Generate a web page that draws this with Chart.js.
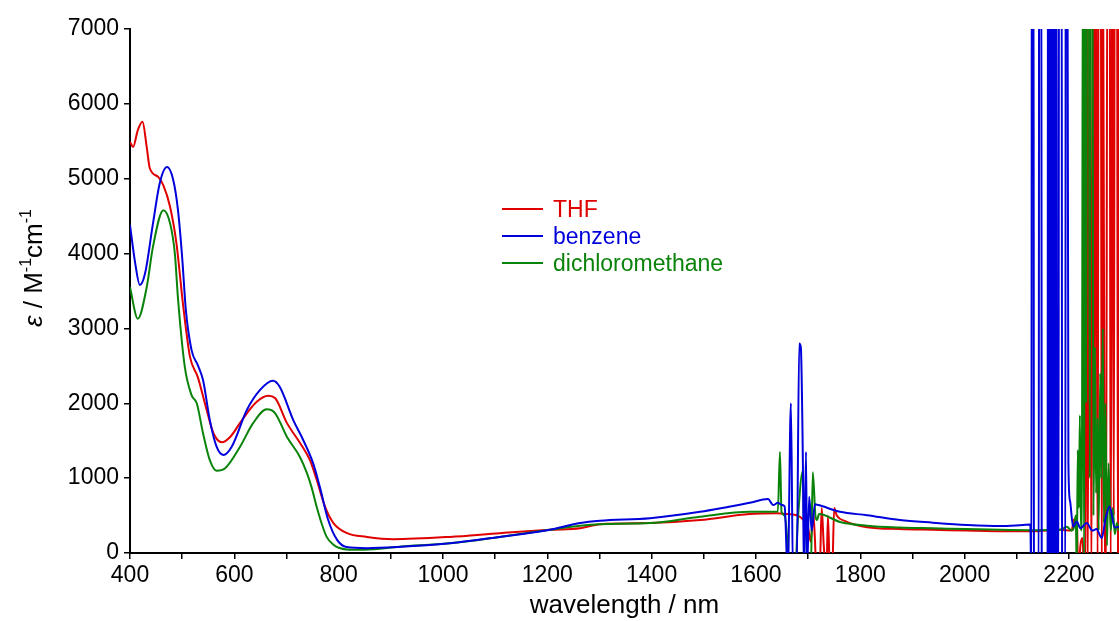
<!DOCTYPE html>
<html lang="en">
<head>
  <meta charset="UTF-8" />
  <title>epsilon vs wavelength</title>
  <script src="https://cdn.jsdelivr.net/npm/chart.js"></script>
  <style>
    html, body { margin: 0; padding: 0; background: #fff; }
    #wrap { width: 1119px; height: 621px; position: relative; }
  </style>
</head>
<body>
  <div id="wrap"><canvas id="spec"></canvas></div>

  <script>
    // wavelength (nm) / epsilon (M^-1 cm^-1)
    const thfX = [400, 406, 415, 424, 432, 438, 454, 464, 477, 489, 502, 515, 530, 547, 560, 576, 592, 617, 643, 665, 678, 701, 726, 745, 758, 774, 790, 816, 854, 904,
      1013, 1109, 1205, 1263, 1301, 1397, 1493, 1588, 1640, 1660, 1680, 1690, 1700, 1705, 1710, 1713, 1716, 1722, 1726, 1730, 1735, 1738, 1742, 1746, 1750, 1755,
      1770, 1813, 1876, 1939, 2004, 2068, 2132, 2183, 2205, 2210, 2213, 2215, 2218, 2222, 2226, 2230, 2232, 2234, 2236, 2240, 2243, 2247, 2250, 2252, 2255, 2257,
      2261, 2263, 2265, 2268, 2271, 2274, 2278, 2280, 2283, 2286, 2288, 2292, 2294, 2296];
    const thfY = [5490, 5425, 5650, 5760, 5425, 5140, 5025, 4910, 4620, 4140, 3300, 2620, 2350, 1910, 1600, 1480, 1550, 1800, 2020, 2100, 2070, 1735, 1470, 1240, 975, 615, 400, 265, 215, 185,
      215, 265, 310, 330, 385, 400, 440, 520, 530, 520, 500, 450, 330, 150, 520, 200, -300, -300, 600, 100, -300, 500, -300, -300, 600, 500,
      430, 345, 320, 310, 300, 290, 290, 310, 300, 450, 350, 500, -300, 100, 200, -500, -500, 9000, -500, 9000, -500, 9000, 2000, 9000, -500, 9000,
      9000, -500, 9000, 1500, -500, 9000, 9000, -500, 9000, 500, 9000, 9000, -500, 9000];

    const benzeneX = [400, 410, 419, 429, 444, 457, 471, 483, 492, 500, 507, 518, 530, 540, 553, 566, 579, 595, 624, 649, 674, 687, 713, 732, 751, 764, 780, 797, 815, 854, 913,
      1013, 1109, 1205, 1263, 1301, 1397, 1493, 1588, 1623, 1633, 1642, 1650, 1655, 1661, 1667, 1671, 1678, 1683, 1686, 1690, 1692, 1696, 1698, 1702, 1707, 1713,
      1720, 1761, 1813, 1876, 1939, 2004, 2068, 2112, 2126, 2128, 2129, 2132, 2133, 2142, 2143, 2147, 2148, 2159, 2160, 2161, 2162, 2163, 2164, 2165, 2166, 2167,
      2168, 2169, 2170, 2171, 2172, 2173, 2174, 2175, 2176, 2177, 2180, 2181, 2186, 2187, 2193, 2194, 2197, 2199, 2202, 2208, 2215, 2222, 2234, 2245, 2253,
      2263, 2270, 2278, 2288, 2296];
    const benzeneY = [4380, 3870, 3580, 3740, 4400, 4940, 5155, 4980, 4580, 3950, 3250, 2710, 2510, 2310, 1775, 1420, 1310, 1420, 1910, 2175, 2300, 2220, 1775, 1510, 1200, 880, 440, 175, 80, 65, 80,
      130, 215, 310, 400, 430, 465, 550, 670, 720, 640, 670, 640, 620, -300, 2000, -300, -300, 2800, 2750, 1200, -300, 1350, -300, 750, 300, 650,
      640, 550, 505, 440, 405, 375, 360, 375, 380, -500, 9000, 9000, -500, -500, 9000, 9000, -500, -500, 9000, -500, 9000, -500, 9000, -500, 9000, -500,
      9000, -500, 9000, -500, 9000, -500, 9000, -500, 9000, -500, -500, 9000, 9000, -500, -500, 9000, 9000, 1200, 700, 350, 420, 330, 400, 300, 320,
      200, 450, 620, 340, 350];

    const dcmX = [400, 415, 432, 444, 464, 477, 486, 492, 505, 518, 528, 540, 553, 566, 582, 611, 636, 662, 678, 701, 726, 739, 748, 758, 768, 777, 790, 800, 820, 850, 917,
      1013, 1109, 1205, 1263, 1301, 1397, 1493, 1588, 1642, 1646, 1649, 1655, 1667, 1675, 1680, 1690, 1694, 1700, 1705, 1709, 1714, 1717, 1721,
      1761, 1813, 1876, 1939, 2004, 2068, 2132, 2183, 2196, 2205, 2210, 2213, 2215, 2217, 2219, 2221, 2223, 2225, 2227, 2229, 2231, 2233, 2235, 2238, 2240, 2242,
      2245, 2247, 2250, 2252, 2255, 2257, 2260, 2262, 2265, 2267, 2270, 2273, 2276, 2280, 2284, 2288, 2292, 2296];
    const dcmY = [3550, 3130, 3550, 4090, 4580, 4400, 4000, 3400, 2490, 2110, 2000, 1600, 1240, 1100, 1130, 1420, 1735, 1920, 1870, 1550, 1280, 1070, 880, 615, 380, 215, 110, 70, 45, 45, 85,
      130, 215, 310, 365, 385, 400, 485, 550, 555, 1350, 550, 500, -300, -300, 400, 1100, -300, -300, -300, 1080, 500, 440, 520,
      415, 365, 340, 330, 320, 310, 305, 310, 350, 300, 350, 500, -200, 1375, 600, 1840, 300, 1200, 9000, -500, 9000, 2000, 9000, 9000, 1000, 9000,
      9000, 500, 2750, 800, 1800, 300, 2400, 1000, 3000, 400, 2000, 100, 1200, 300, 600, 250, 400, 300];

    const seriesNames = ['THF', 'benzene', 'dichloromethane'];
    const seriesColors = ['#e00000', '#0000dd', '#0a830a'];
    const xTickValues = [400, 500, 600, 700, 800, 900, 1000, 1100, 1200, 1300, 1400, 1500, 1600, 1700, 1800, 1900, 2000, 2100, 2200];
    const yTickValues = [0, 1000, 2000, 3000, 4000, 5000, 6000, 7000];

    const FONT = "'Liberation Sans', Arial, sans-serif";

    function pts(xs, ys) { return xs.map((x, i) => ({ x: x, y: ys[i] })); }

    // legend + y title drawn by hand
    const decorations = {
      id: 'decorations',
      afterDraw(chart) {
        const ctx = chart.ctx;
        ctx.save();
        // legend
        const rows = [211, 238, 265];
        ctx.font = '23px ' + FONT;
        ctx.textBaseline = 'middle';
        seriesNames.forEach((name, i) => {
          ctx.strokeStyle = seriesColors[i];
          ctx.lineWidth = 2;
          ctx.beginPath();
          ctx.moveTo(502, rows[i] - 2);
          ctx.lineTo(543, rows[i] - 2);
          ctx.stroke();
          ctx.fillStyle = seriesColors[i];
          ctx.fillText(name, 553, rows[i]);
        });

        // y axis title: italic epsilon, superscripts
        ctx.translate(42, 268);
        ctx.rotate(-Math.PI / 2);
        ctx.fillStyle = '#000';
        ctx.textBaseline = 'alphabetic';
        const parts = [
          { t: '\u03b5', f: 'italic 26px ' + FONT, dy: 0 },
          { t: ' / M', f: '26px ' + FONT, dy: 0 },
          { t: '-1', f: '16px ' + FONT, dy: -11 },
          { t: 'cm', f: '26px ' + FONT, dy: 0 },
          { t: '-1', f: '16px ' + FONT, dy: -11 }
        ];
        let total = 0;
        parts.forEach(p => { ctx.font = p.f; p.w = ctx.measureText(p.t).width; total += p.w; });
        let x = -total / 2;
        parts.forEach(p => {
          ctx.font = p.f;
          ctx.fillText(p.t, x, p.dy);
          x += p.w;
        });
        ctx.restore();
      }
    };

    const ctx = document.getElementById('spec').getContext('2d');
    new Chart(ctx, {
      type: 'line',
      data: {
        datasets: [
          { label: seriesNames[1], data: pts(benzeneX, benzeneY), borderColor: seriesColors[1], order: 0 },
          { label: seriesNames[2], data: pts(dcmX, dcmY), borderColor: seriesColors[2], order: 1 },
          { label: seriesNames[0], data: pts(thfX, thfY), borderColor: seriesColors[0], order: 2 }
        ]
      },
      options: {
        responsive: true,
        maintainAspectRatio: false,
        animation: false,
        datasets: {
          line: { borderWidth: 2, pointRadius: 0, cubicInterpolationMode: 'monotone', fill: false }
        },
        layout: { padding: { top: 29, right: 0, left: 0, bottom: 0 } },
        plugins: { legend: { display: false }, tooltip: { enabled: false } },
        scales: {
          x: {
            type: 'linear',
            min: 400,
            max: 2296,
            afterBuildTicks(scale) { scale.ticks = xTickValues.map(v => ({ value: v })); },
            afterFit(scale) { scale.height = 68; },
            ticks: {
              autoSkip: false, maxRotation: 0, color: '#000', padding: 3,
              font: { family: FONT, size: 23 },
              callback: v => (v % 200 === 0 ? String(v) : '')
            },
            grid: { drawOnChartArea: false, drawTicks: true, tickLength: 6, color: '#000', lineWidth: 1.5 },
            border: { color: '#000', width: 2 },
            title: {
              display: true, text: 'wavelength / nm', color: '#000',
              font: { family: FONT, size: 26 }, padding: { top: 2, bottom: 0 }
            }
          },
          y: {
            min: 0,
            max: 7000,
            afterBuildTicks(scale) { scale.ticks = yTickValues.map(v => ({ value: v })); },
            afterFit(scale) { scale.width = 130; },
            ticks: { color: '#000', padding: 5, font: { family: FONT, size: 23 }, callback: v => String(v) },
            grid: { drawOnChartArea: false, drawTicks: true, tickLength: 6, color: '#000', lineWidth: 1.5 },
            border: { color: '#000', width: 2 }
          }
        }
      },
      plugins: [decorations]
    });
  </script>
</body>
</html>
